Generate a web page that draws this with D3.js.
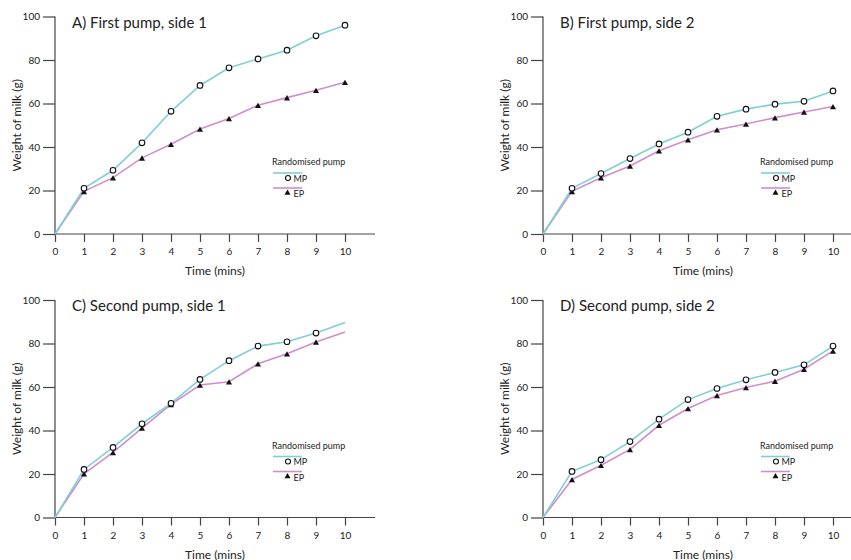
<!DOCTYPE html>
<html>
<head>
<meta charset="utf-8">
<script src="https://cdn.jsdelivr.net/npm/d3@7"></script>
<style>
  html, body { margin: 0; padding: 0; background: #fff; }
  svg { display: block; font-family: "Lato", "Open Sans", sans-serif; }
</style>
</head>
<body>
<svg id="chart" width="851" height="560"></svg>
<script>
// ---- data ----
const times = [0, 1, 2, 3, 4, 5, 6, 7, 8, 9, 10];
const xTicks = [0, 1, 2, 3, 4, 5, 6, 7, 8, 9, 10];
const yTicks = [0, 20, 40, 60, 80, 100];
const seriesNames = ["MP", "EP"];
const legendTitle = "Randomised pump";
const xTitle = "Time (mins)";
const yTitle = "Weight of milk (g)";

const titleA = "A) First pump, side 1";
const mpA = [0, 21.0, 29.3, 41.9, 56.4, 68.3, 76.4, 80.5, 84.5, 91.1, 96.0];
const epA = [0, 19.6, 25.9, 35.0, 41.3, 48.3, 53.1, 59.2, 62.7, 66.1, 69.8];
const markedA = [1, 2, 3, 4, 5, 6, 7, 8, 9, 10];

const titleB = "B) First pump, side 2";
const mpB = [0, 21.0, 27.8, 34.7, 41.4, 46.8, 54.1, 57.4, 59.7, 61.0, 65.8];
const epB = [0, 19.6, 25.9, 31.3, 38.3, 43.3, 47.9, 50.6, 53.5, 56.1, 58.6];
const markedB = [1, 2, 3, 4, 5, 6, 7, 8, 9, 10];

const titleC = "C) Second pump, side 1";
const mpC = [0, 22.1, 32.2, 43.1, 52.5, 63.5, 72.1, 78.8, 80.8, 84.8, 89.6];
const epC = [0, 20.1, 29.9, 41.1, 52.0, 60.9, 62.4, 70.7, 75.3, 80.7, 85.3];
const markedC = [1, 2, 3, 4, 5, 6, 7, 8, 9];

const titleD = "D) Second pump, side 2";
const mpD = [0, 21.2, 26.6, 34.9, 45.2, 54.2, 59.3, 63.3, 66.7, 70.2, 78.8];
const epD = [0, 17.5, 24.0, 31.3, 42.4, 50.1, 56.1, 59.8, 62.7, 68.2, 76.6];
const markedD = [1, 2, 3, 4, 5, 6, 7, 8, 9, 10];

// ---- styles ----
const colMP = "#7fcfd3";
const colEP = "#cf8ecd";
const axisCol = "#444";
const textCol = "#222";

const svg = d3.select("#chart");

const panels = [
  { title: titleA, mp: mpA, ep: epA, marked: markedA, ox: 55, oy: 16.5 },
  { title: titleB, mp: mpB, ep: epB, marked: markedB, ox: 543, oy: 16.5 },
  { title: titleC, mp: mpC, ep: epC, marked: markedC, ox: 55, oy: 300 },
  { title: titleD, mp: mpD, ep: epD, marked: markedD, ox: 543, oy: 300 }
];

const plotW = 290, plotH = 217.5, axisExt = 320;

panels.forEach(p => {
  const g = svg.append("g").attr("transform", `translate(${p.ox},${p.oy})`);
  const x = d3.scaleLinear().domain([0, 10]).range([0, plotW]);
  const y = d3.scaleLinear().domain([0, 100]).range([plotH, 0]);

  // y axis
  const yAx = g.append("g").call(d3.axisLeft(y).tickValues(yTicks).tickSize(12).tickPadding(3));
  yAx.select(".domain").attr("stroke", axisCol).attr("stroke-width", 1.2).attr("d", `M0,${plotH}V0`);
  yAx.selectAll(".tick line").attr("stroke", axisCol).attr("stroke-width", 1.2);
  yAx.selectAll(".tick text").attr("fill", textCol).style("font-size", "10px").style("font-family", "Lato, sans-serif");

  // x axis
  const xAx = g.append("g").attr("transform", `translate(0,${plotH})`)
    .call(d3.axisBottom(x).tickValues(xTicks).tickFormat(d3.format("d")).tickSize(8).tickPadding(6));
  xAx.select(".domain").attr("stroke", axisCol).attr("stroke-width", 1.2).attr("d", `M0,0H${axisExt}`);
  xAx.selectAll(".tick line").attr("stroke", axisCol).attr("stroke-width", 1.2);
  xAx.selectAll(".tick text").attr("fill", textCol).style("font-size", "10px").style("font-family", "Lato, sans-serif");

  // axis titles
  g.append("text").attr("x", axisExt / 2).attr("y", plotH + 41)
    .attr("text-anchor", "middle").attr("fill", textCol).style("font-size", "12px").text(xTitle);
  g.append("text").attr("transform", `translate(${-34},${plotH / 2}) rotate(-90)`)
    .attr("text-anchor", "middle").attr("fill", textCol).style("font-size", "12px").text(yTitle);

  // panel title
  g.append("text").attr("x", 17).attr("y", 11).attr("fill", textCol)
    .style("font-size", "15px").style("font-weight", 400).text(p.title);

  // lines
  const line = d3.line().x((d, i) => x(times[i])).y(d => y(d));
  g.append("path").datum(p.ep).attr("d", line).attr("fill", "none")
    .attr("stroke", colEP).attr("stroke-width", 1.6);
  g.append("path").datum(p.mp).attr("d", line).attr("fill", "none")
    .attr("stroke", colMP).attr("stroke-width", 1.6);

  // markers
  const tri = d3.symbol().type(d3.symbolTriangle).size(16);
  g.selectAll(".ep").data(p.marked).enter().append("path")
    .attr("transform", t => `translate(${x(t)},${y(p.ep[times.indexOf(t)]) + 1})`)
    .attr("d", tri).attr("fill", "#111");
  g.selectAll(".mp").data(p.marked).enter().append("circle")
    .attr("cx", t => x(t)).attr("cy", t => y(p.mp[times.indexOf(t)]))
    .attr("r", 2.8).attr("fill", "#fff").attr("stroke", "#111").attr("stroke-width", 1.1);

  // legend
  const lg = g.append("g").attr("transform", "translate(217,148.5)");
  lg.append("text").attr("x", 0).attr("y", 0).attr("fill", textCol)
    .style("font-size", "9px").text(legendTitle);
  lg.append("line").attr("x1", 1).attr("x2", 30).attr("y1", 8).attr("y2", 8)
    .attr("stroke", colMP).attr("stroke-width", 1.6);
  lg.append("circle").attr("cx", 16).attr("cy", 13).attr("r", 2.5)
    .attr("fill", "#fff").attr("stroke", "#111").attr("stroke-width", 1.1);
  lg.append("text").attr("x", 21.5).attr("y", 16.5).attr("fill", textCol)
    .style("font-size", "9px").text(seriesNames[0]);
  lg.append("line").attr("x1", 1).attr("x2", 30).attr("y1", 23).attr("y2", 23)
    .attr("stroke", colEP).attr("stroke-width", 1.6);
  lg.append("path").attr("transform", "translate(15.5,28)").attr("d", tri).attr("fill", "#111");
  lg.append("text").attr("x", 21.5).attr("y", 32).attr("fill", textCol)
    .style("font-size", "9px").text(seriesNames[1]);
});
</script>
</body>
</html>
